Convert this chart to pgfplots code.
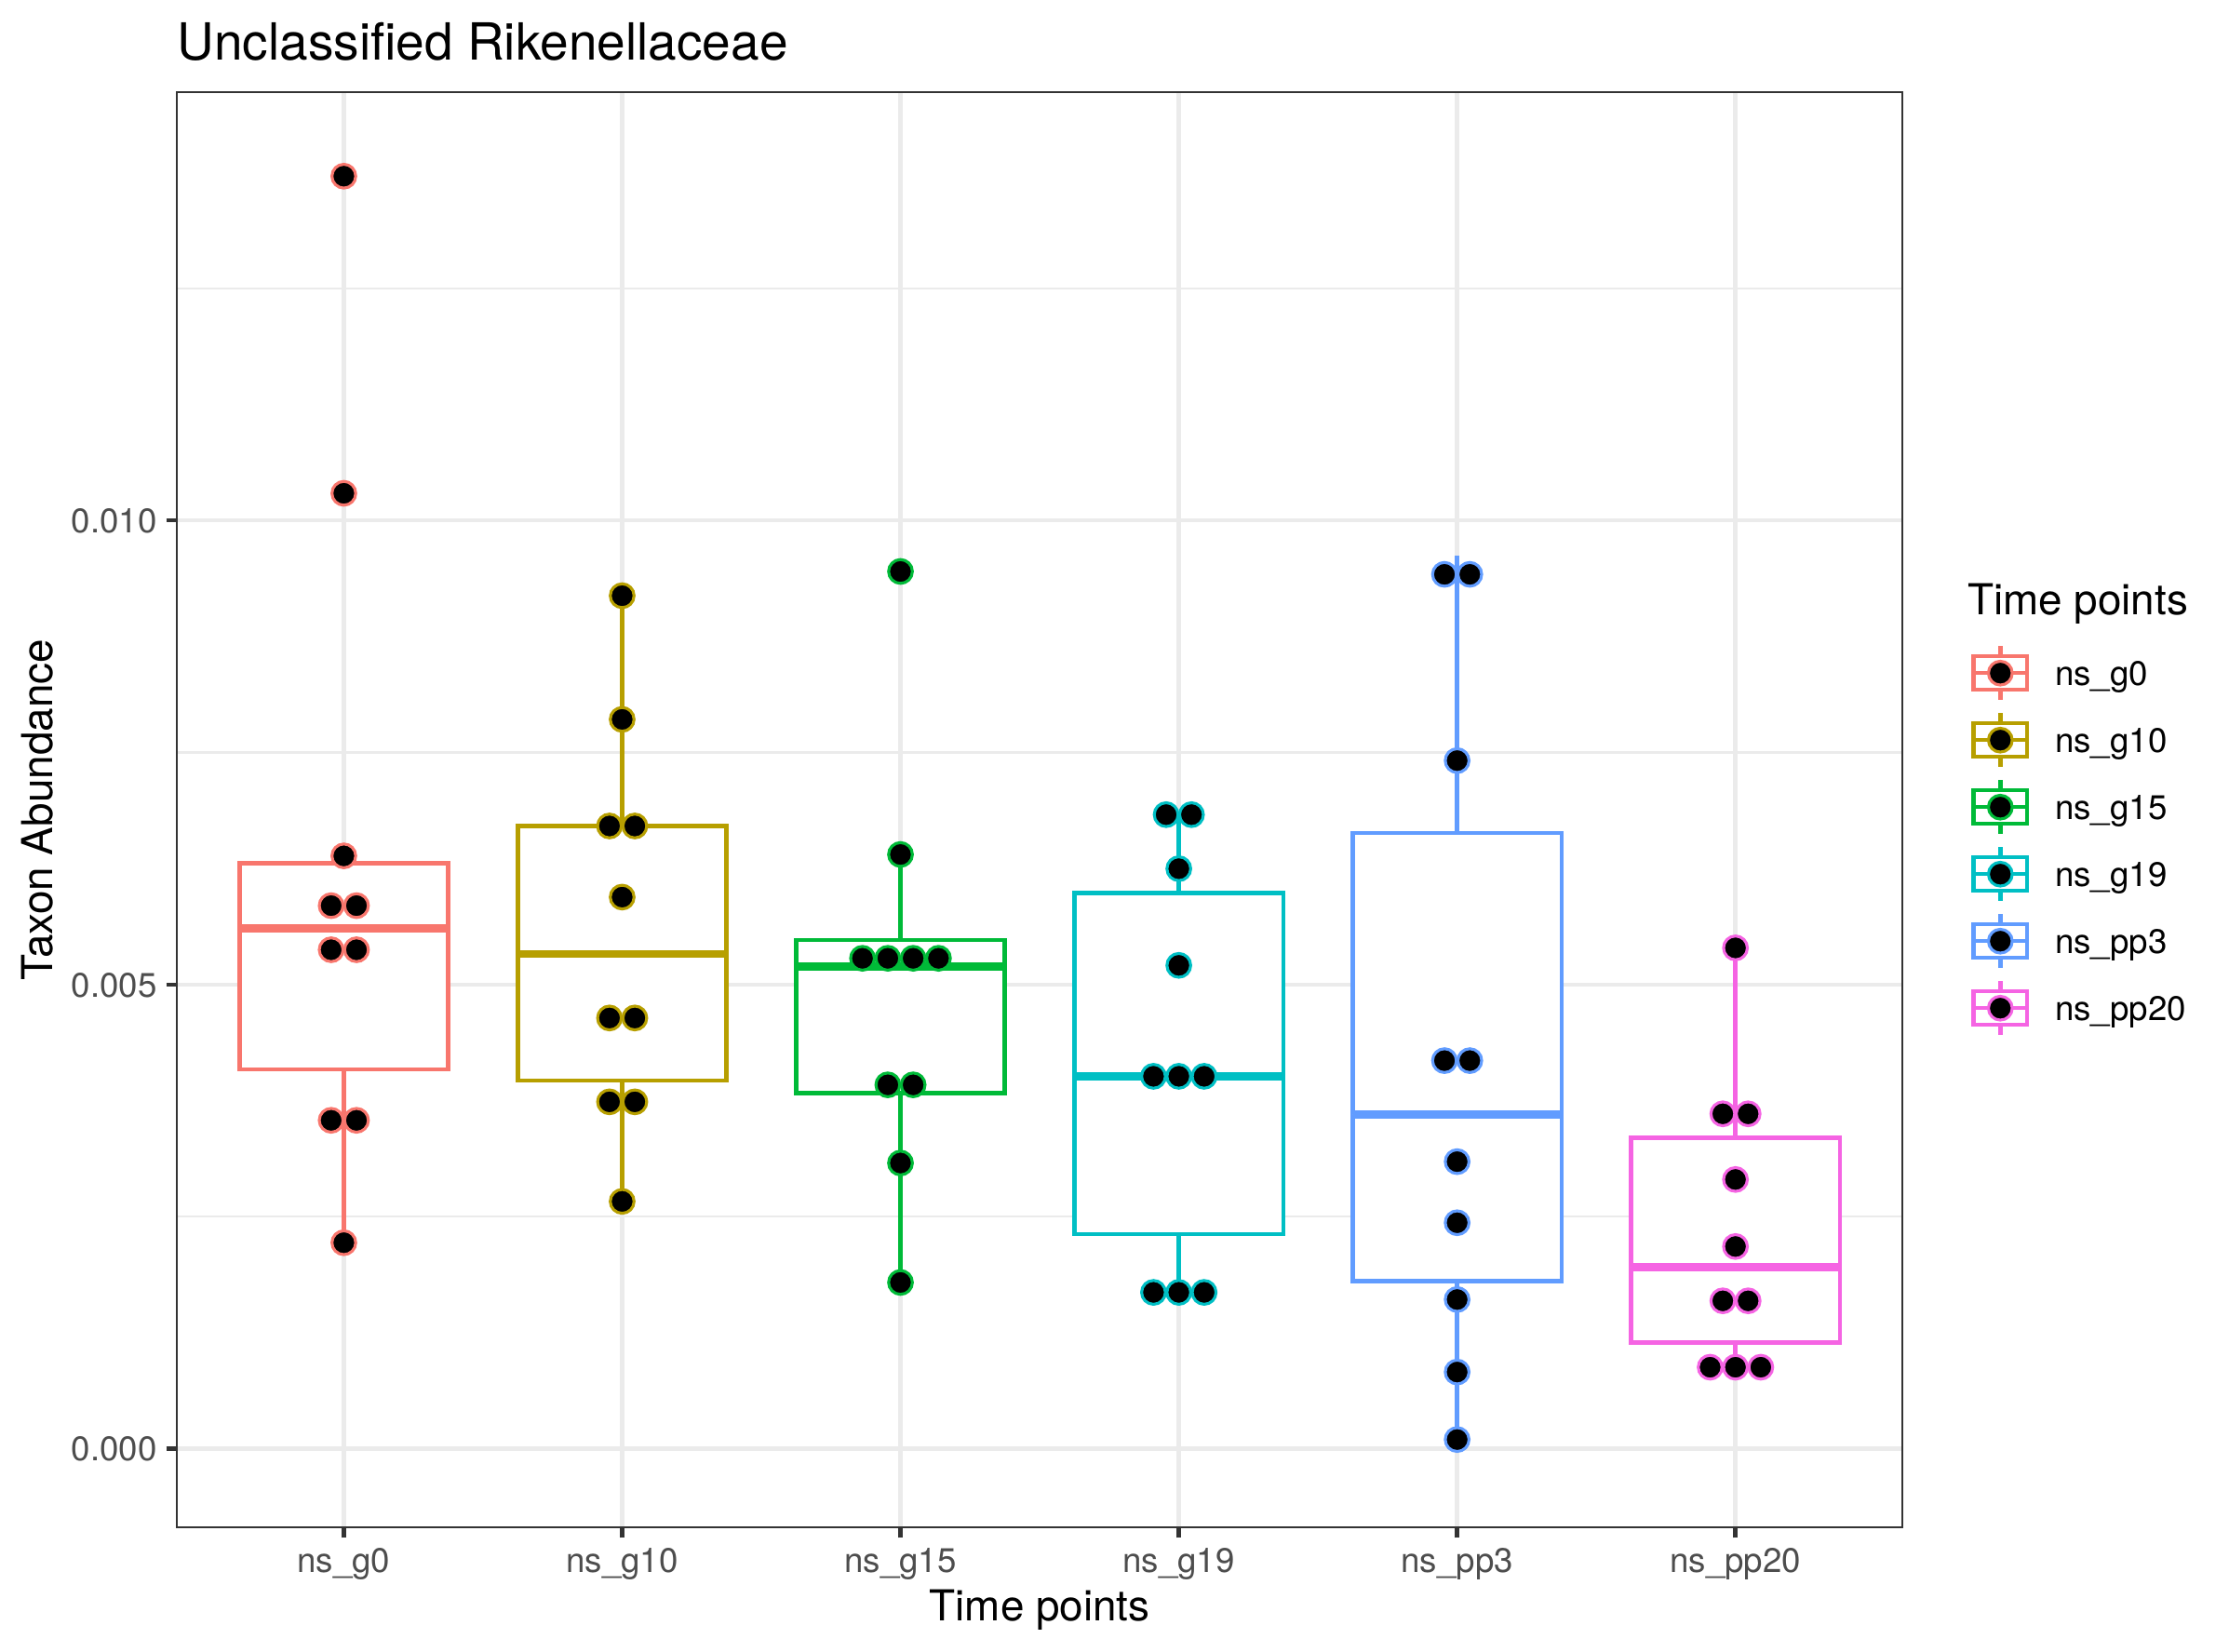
\documentclass[border=0pt]{standalone}
\usepackage{fontspec}
\setmainfont{TeX Gyre Heros}
\usepackage{pgfplots}
\pgfplotsset{compat=1.18}
\usepgfplotslibrary{statistics}
\definecolor{c1}{HTML}{F8766D}
\definecolor{c2}{HTML}{B79F00}
\definecolor{c3}{HTML}{00BA38}
\definecolor{c4}{HTML}{00BFC4}
\definecolor{c5}{HTML}{619CFF}
\definecolor{c6}{HTML}{F564E3}
\definecolor{grey20}{HTML}{333333}
\definecolor{grey30}{HTML}{4D4D4D}
\definecolor{grey92}{HTML}{EBEBEB}
\pgfplotsset{
  legbox/.style={legend image code/.code={
    \path[draw=none, fill=none] (-1.728pt,-8.64pt) rectangle (15.552pt,8.64pt);
    \draw[draw=#1, line width=1.07pt] (6.912pt,4.32pt)--(6.912pt,6.912pt) (6.912pt,-4.32pt)--(6.912pt,-6.912pt);
    \draw[draw=#1, fill=white, line width=1.07pt] (0pt,-4.32pt) rectangle (13.824pt,4.32pt);
    \draw[draw=#1, line width=1.07pt] (0pt,0pt)--(13.824pt,0pt);
    \draw[draw=#1, fill=black, line width=0.75pt] (6.912pt,0pt) circle (3.07pt);
  }},
  dots/.style={only marks, mark=*, mark size=3.07pt, mark options={draw=#1, fill=black, line width=0.75pt, solid}, forget plot},
  bx/.style={draw=#1, fill=white, line width=1.07pt, solid, forget plot},
}
\begin{document}
\begin{tikzpicture}
% y values are given in units of 1e-3 (tick labels show the real values)
\begin{axis}[
  scale only axis, width=445.0pt, height=370.0pt,
  xmin=0.4, xmax=6.6, ymin=-0.845, ymax=14.608,
  boxplot/draw direction=y,
  xtick={1,2,3,4,5,6},
  xticklabels={ns\_g0,ns\_g10,ns\_g15,ns\_g19,ns\_pp3,ns\_pp20},
  ytick={0,5,10}, yticklabels={0.000,0.005,0.010},
  minor ytick={2.5,7.5,12.5},
  scaled y ticks=false,
  xmajorgrids, ymajorgrids, yminorgrids,
  major grid style={draw=grey92, line width=1.07pt},
  minor grid style={draw=grey92, line width=0.53pt},
  tick align=outside, major tick length=2.75pt, minor tick length=0pt,
  tick style={draw=grey20, line width=1.07pt},
  axis line style={draw=grey20, line width=0.55pt},
  xtick pos=left, ytick pos=left,
  ticklabel style={font=\fontsize{8.8pt}{10pt}\selectfont, text=grey30},
  xticklabel style={anchor=base, inner sep=0pt, yshift=-9.0pt},
  yticklabel style={anchor=east, inner sep=0pt, text height=6.34pt, text depth=0pt, xshift=-2.2pt},
  xlabel={Time points}, ylabel={Taxon Abundance},
  xlabel style={at={(axis description cs:0.5,-0.06532)}, anchor=base, inner sep=0pt, font=\fontsize{11pt}{13pt}\selectfont},
  ylabel style={at={(axis description cs:-0.07191,0.5)}, anchor=base, inner sep=0pt, font=\fontsize{11pt}{13pt}\selectfont},
  legend style={at={(1.0373,0.61865)}, anchor=north west, draw=none, fill=none, inner sep=0pt, outer sep=0pt, row sep=0pt, column sep=5.5pt, font=\fontsize{8.8pt}{10pt}\selectfont, nodes={inner sep=0pt, text height=6.34pt, text depth=0pt}},
  legend cell align=left,
]
% ns_g0
\addplot[bx=c1, boxplot prepared={draw position=1, box extend=0.75, whisker extend=0, lower whisker=2.22, lower quartile=4.089, median=5.605, upper quartile=6.309, upper whisker=6.386, every median/.style={line width=2.13pt}}] coordinates {};
% ns_g10
\addplot[bx=c2, boxplot prepared={draw position=2, box extend=0.75, whisker extend=0, lower whisker=2.665, lower quartile=3.966, median=5.329, upper quartile=6.708, upper whisker=9.188, every median/.style={line width=2.13pt}}] coordinates {};
% ns_g15
\addplot[bx=c3, boxplot prepared={draw position=3, box extend=0.75, whisker extend=0, lower whisker=1.792, lower quartile=3.829, median=5.191, upper quartile=5.482, upper whisker=6.401, every median/.style={line width=2.13pt}}] coordinates {};
% ns_g19
\addplot[bx=c4, boxplot prepared={draw position=4, box extend=0.75, whisker extend=0, lower whisker=1.685, lower quartile=2.312, median=4.012, upper quartile=5.988, upper whisker=6.83, every median/.style={line width=2.13pt}}] coordinates {};
% ns_pp3
\addplot[bx=c5, boxplot prepared={draw position=5, box extend=0.75, whisker extend=0, lower whisker=0.1, lower quartile=1.807, median=3.599, upper quartile=6.631, upper whisker=9.622, every median/.style={line width=2.13pt}}] coordinates {};
% ns_pp20
\addplot[bx=c6, boxplot prepared={draw position=6, box extend=0.75, whisker extend=0, lower whisker=0.873, lower quartile=1.147, median=1.961, upper quartile=3.348, upper whisker=5.406, every median/.style={line width=2.13pt}}] coordinates {};

\addplot[dots=c1] coordinates {(1,13.706) (1,10.291) (1,6.386) (0.9545,5.85) (1.0455,5.85) (0.9545,5.375) (1.0455,5.375) (0.9545,3.538) (1.0455,3.538) (1,2.22)};
\addplot[dots=c2] coordinates {(2,9.188) (2,7.856) (1.9545,6.708) (2.0455,6.708) (2,5.942) (1.9545,4.64) (2.0455,4.64) (1.9545,3.737) (2.0455,3.737) (2,2.665)};
\addplot[dots=c3] coordinates {(3,9.449) (3,6.401) (2.8635,5.283) (2.9545,5.283) (3.0455,5.283) (3.1365,5.283) (2.9545,3.92) (3.0455,3.92) (3,3.078) (3,1.792)};
\addplot[dots=c4] coordinates {(3.9545,6.83) (4.0455,6.83) (4,6.248) (4,5.207) (3.909,4.012) (4,4.012) (4.091,4.012) (3.909,1.685) (4,1.685) (4.091,1.685)};
\addplot[dots=c5] coordinates {(4.9545,9.418) (5.0455,9.418) (5,7.412) (4.9545,4.181) (5.0455,4.181) (5,3.093) (5,2.435) (5,1.608) (5,0.827) (5,0.1)};
\addplot[dots=c6] coordinates {(6,5.395) (5.9545,3.608) (6.0455,3.608) (6,2.901) (6,2.179) (5.9545,1.594) (6.0455,1.594) (5.909,0.879) (6,0.879) (6.091,0.879)};

\addlegendimage{legbox=c1}\addlegendentry{ns\_g0}
\addlegendimage{legbox=c2}\addlegendentry{ns\_g10}
\addlegendimage{legbox=c3}\addlegendentry{ns\_g15}
\addlegendimage{legbox=c4}\addlegendentry{ns\_g19}
\addlegendimage{legbox=c5}\addlegendentry{ns\_pp3}
\addlegendimage{legbox=c6}\addlegendentry{ns\_pp20}
\end{axis}
\node[anchor=base west, inner sep=0pt, font=\fontsize{13.2pt}{15pt}\selectfont] at (0pt,378.3pt) {Unclassified Rikenellaceae};
\node[anchor=base west, inner sep=0pt, font=\fontsize{11pt}{13pt}\selectfont] at (461.6pt,235.4pt) {Time points};
\pgfresetboundingbox
\path[use as bounding box] (-45.6pt,-31.92pt) rectangle (529.2pt,393.84pt);
\end{tikzpicture}
\end{document}
